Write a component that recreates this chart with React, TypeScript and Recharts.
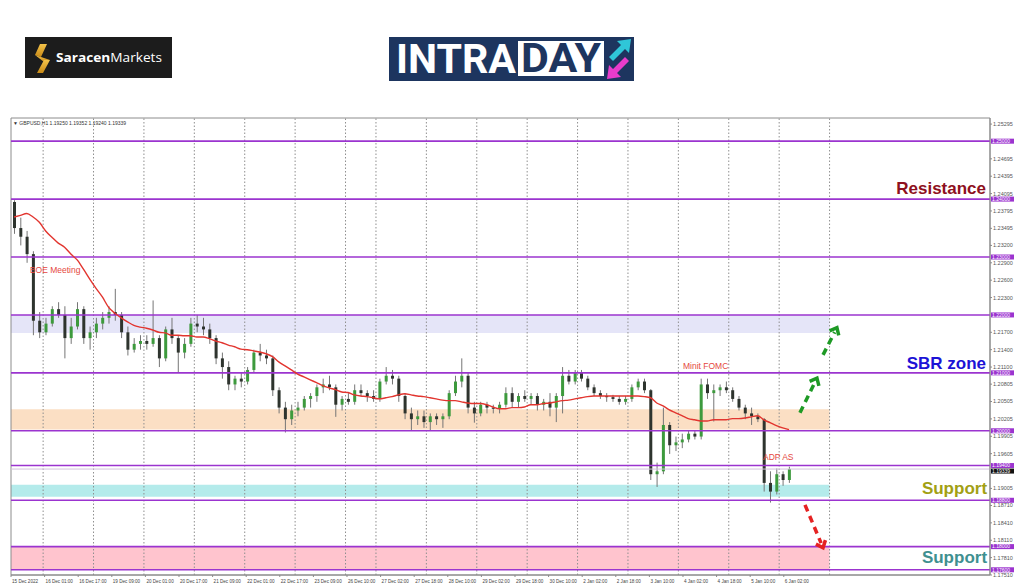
import React from 'react'
import { Bar, ComposedChart, Line, ReferenceArea, ReferenceDot, ReferenceLine, XAxis, YAxis } from 'recharts'

// GBPUSD, one candle per 3 hours, 15 Dec 2022 -> 6 Jan 2023
const firstOpen = 1.2395
const closes = [
  1.2350, 1.2335, 1.2305, 1.2190, 1.2170, 1.2185, 1.2210, 1.2200, 1.2160, 1.2180,
  1.2210, 1.2160, 1.2170, 1.2185, 1.2195, 1.2205, 1.2200, 1.2170, 1.2140, 1.2150,
  1.2155, 1.2150, 1.2160, 1.2125, 1.2175, 1.2160, 1.2135, 1.2150, 1.2185, 1.2180,
  1.2175, 1.2160, 1.2125, 1.2110, 1.2080, 1.2090, 1.2085, 1.2105, 1.2135, 1.2130,
  1.2125, 1.2070, 1.2040, 1.2020, 1.2035, 1.2040, 1.2055, 1.2060, 1.2075, 1.2080,
  1.2075, 1.2045, 1.2055, 1.2050, 1.2070, 1.2065, 1.2060, 1.2055, 1.2085, 1.2095,
  1.2090, 1.2060, 1.2030, 1.2020, 1.2025, 1.2015, 1.2025, 1.2020, 1.2025, 1.2065,
  1.2085, 1.2095, 1.2040, 1.2030, 1.2045, 1.2040, 1.2038, 1.2045, 1.2065, 1.2050,
  1.2060, 1.2055, 1.2060, 1.2045, 1.2050, 1.2040, 1.2060, 1.2095, 1.2085, 1.2100,
  1.2090, 1.2075, 1.2065, 1.2060, 1.2058, 1.2055, 1.2050, 1.2055, 1.2075, 1.2085,
  1.2070, 1.1925, 1.1930, 1.2010, 1.1975, 1.1980, 1.1985, 1.1995, 1.1990, 1.2080,
  1.2065, 1.2070, 1.2075, 1.2070, 1.2055, 1.2040, 1.2030, 1.2025, 1.2020, 1.1910,
  1.1895, 1.1925, 1.1915, 1.1934,
]
const highs = [
  1.2398, 1.2368, 1.2345, 1.2310, 1.2205, 1.2195, 1.2215, 1.2222, 1.2215, 1.2195,
  1.2222, 1.2215, 1.2180, 1.2195, 1.2205, 1.2215, 1.2245, 1.2205, 1.2180, 1.2160,
  1.2165, 1.2165, 1.2225, 1.2165, 1.2180, 1.2195, 1.2165, 1.2160, 1.2195, 1.2200,
  1.2195, 1.2185, 1.2165, 1.2135, 1.2120, 1.2095, 1.2100, 1.2110, 1.2140, 1.2150,
  1.2140, 1.2130, 1.2075, 1.2050, 1.2045, 1.2050, 1.2060, 1.2065, 1.2080, 1.2090,
  1.2095, 1.2080, 1.2060, 1.2065, 1.2080, 1.2080, 1.2070, 1.2070, 1.2090, 1.2110,
  1.2105, 1.2095, 1.2065, 1.2040, 1.2035, 1.2035, 1.2030, 1.2030, 1.2030, 1.2070,
  1.2095, 1.2125, 1.2100, 1.2050, 1.2050, 1.2050, 1.2045, 1.2050, 1.2075, 1.2075,
  1.2065, 1.2070, 1.2065, 1.2065, 1.2055, 1.2065, 1.2065, 1.2110, 1.2105, 1.2105,
  1.2105, 1.2095, 1.2080, 1.2070, 1.2065, 1.2062, 1.2060, 1.2060, 1.2080, 1.2090,
  1.2090, 1.2072, 1.1945, 1.2040, 1.2015, 1.1990, 1.1995, 1.2000, 1.2000, 1.2090,
  1.2090, 1.2080, 1.2080, 1.2085, 1.2075, 1.2060, 1.2045, 1.2040, 1.2030, 1.2022,
  1.1930, 1.1935, 1.1930, 1.1938,
]
const lows = [
  1.2340, 1.2320, 1.2290, 1.2165, 1.2160, 1.2165, 1.2180, 1.2195, 1.2125, 1.2150,
  1.2175, 1.2150, 1.2140, 1.2160, 1.2175, 1.2185, 1.2190, 1.2160, 1.2130, 1.2135,
  1.2140, 1.2140, 1.2145, 1.2110, 1.2120, 1.2150, 1.2100, 1.2125, 1.2145, 1.2170,
  1.2165, 1.2150, 1.2115, 1.2090, 1.2070, 1.2070, 1.2075, 1.2080, 1.2100, 1.2120,
  1.2115, 1.2060, 1.2030, 1.1997, 1.2010, 1.2025, 1.2035, 1.2040, 1.2050, 1.2065,
  1.2070, 1.2024, 1.2035, 1.2045, 1.2045, 1.2060, 1.2050, 1.2050, 1.2050, 1.2080,
  1.2080, 1.2050, 1.2020, 1.2000, 1.2010, 1.2005, 1.2000, 1.2010, 1.2005, 1.2020,
  1.2060, 1.2075, 1.2030, 1.2014, 1.2025, 1.2030, 1.2030, 1.2030, 1.2040, 1.2040,
  1.2040, 1.2050, 1.2045, 1.2035, 1.2035, 1.2025, 1.2015, 1.2030, 1.2080, 1.2080,
  1.2085, 1.2070, 1.2060, 1.2055, 1.2050, 1.2050, 1.2045, 1.2045, 1.2050, 1.2070,
  1.2065, 1.1915, 1.1903, 1.1925, 1.1960, 1.1965, 1.1970, 1.1980, 1.1985, 1.1985,
  1.2055, 1.2016, 1.2060, 1.2065, 1.2050, 1.2035, 1.2020, 1.2010, 1.2015, 1.1895,
  1.1876, 1.1890, 1.1905, 1.1910,
]
const maValues = [
  1.2369, 1.2372, 1.2375, 1.2369, 1.2360, 1.2345, 1.2334, 1.2324, 1.2317, 1.2305,
  1.2295, 1.2279, 1.2262, 1.2246, 1.2231, 1.2213, 1.2203, 1.2195, 1.2188, 1.2182,
  1.2179, 1.2177, 1.2174, 1.2170, 1.2169, 1.2165, 1.2165, 1.2164, 1.2164, 1.2162,
  1.2162, 1.2159, 1.2155, 1.2152, 1.2148, 1.2145, 1.2141, 1.2140, 1.2138, 1.2136,
  1.2133, 1.2128, 1.2119, 1.2112, 1.2105, 1.2098, 1.2093, 1.2088, 1.2083, 1.2078,
  1.2074, 1.2071, 1.2067, 1.2066, 1.2062, 1.2060, 1.2059, 1.2057, 1.2055, 1.2057,
  1.2059, 1.2062, 1.2064, 1.2062, 1.2060, 1.2059, 1.2057, 1.2055, 1.2053, 1.2052,
  1.2052, 1.2050, 1.2048, 1.2047, 1.2047, 1.2045, 1.2041, 1.2038, 1.2038, 1.2040,
  1.2040, 1.2041, 1.2045, 1.2045, 1.2047, 1.2048, 1.2050, 1.2052, 1.2053, 1.2055,
  1.2057, 1.2059, 1.2060, 1.2060, 1.2060, 1.2060, 1.2060, 1.2060, 1.2060, 1.2060,
  1.2059, 1.2057, 1.2048, 1.2043, 1.2036, 1.2031, 1.2026, 1.2021, 1.2019, 1.2017,
  1.2017, 1.2019, 1.2019, 1.2019, 1.2021, 1.2021, 1.2022, 1.2024, 1.2026, 1.2019,
  1.2014, 1.2009, 1.2005, 1.2002,
]

// time axis in hours from the first bar
const timeTicks = [0, 16, 32, 48, 64, 80, 96, 112, 128, 144, 160, 176, 192, 208, 224, 240, 256, 272, 288, 304, 320, 336, 352, 368]
const timeLabels = [
  '15 Dec 2022', '16 Dec 01:00', '16 Dec 17:00', '19 Dec 09:00', '20 Dec 01:00', '20 Dec 17:00',
  '21 Dec 09:00', '22 Dec 01:00', '22 Dec 17:00', '23 Dec 09:00', '26 Dec 10:00', '27 Dec 02:00',
  '27 Dec 18:00', '28 Dec 10:00', '29 Dec 02:00', '29 Dec 18:00', '30 Dec 10:00', '2 Jan 02:00',
  '2 Jan 18:00', '3 Jan 10:00', '4 Jan 02:00', '4 Jan 18:00', '5 Jan 10:00', '6 Jan 02:00',
]
const gridTimes = [15.3, 39.3, 63.3, 87.3, 111.3, 135.3, 159.3, 173.8, 197.8, 221.8, 245.8, 269.8, 293.8, 317.8, 341.8, 365.8, 389.8]
const timeEnd = 466.2
const zoneEnd = 389.8

// ticks that sit under a level tag are not listed
const priceTicks = [
  1.25295, 1.24695, 1.24395, 1.24095, 1.23795, 1.23495, 1.232, 1.229, 1.226, 1.223, 1.217, 1.214,
  1.211, 1.20805, 1.20505, 1.20205, 1.19905, 1.19605, 1.19005, 1.1871, 1.1841, 1.1811, 1.1781, 1.1751,
]
const priceMin = 1.1751
const priceMax = 1.254
const levels = [1.25, 1.24, 1.23, 1.22, 1.21, 1.2, 1.194, 1.188, 1.18, 1.176]
const lastPrice = 1.19339

const zoneBounds = [
  [1.2169, 1.22],
  [1.2002, 1.2037],
  [1.1886, 1.1907],
  [1.176, 1.18],
]
const zoneFills = ['#e5e5f8', '#fbdfc4', '#b4ebeb', '#ffc4ce']

const eventNotes = [
  { text: 'BOE Meeting', t: 9, price: 1.2272 },
  { text: 'Minit FOMC', t: 320, price: 1.2107 },
  { text: 'ADP AS', t: 358.1, price: 1.195 },
]
const zoneNotes = [
  { text: 'Resistance', t: 464.3, price: 1.2409 },
  { text: 'SBR zone', t: 464.3, price: 1.2107 },
  { text: 'Support', t: 464.8, price: 1.1891 },
  { text: 'Support', t: 464.8, price: 1.1771 },
]
const zoneNoteColors = ['#8e1020', '#1c12d6', '#a2a014', '#3f9090']

const bullArrows = [
  [{ x: 375.7, y: 1.2031 }, { x: 383.8, y: 1.2091 }],
  [{ x: 386.7, y: 1.2131 }, { x: 393.3, y: 1.2178 }],
]
const bearArrow = [{ x: 378.1, y: 1.1872 }, { x: 386.7, y: 1.1798 }]

const candles = closes.map((close, i) => ({
  t: 1.5 + i * 3,
  open: i === 0 ? firstOpen : closes[i - 1],
  high: highs[i],
  low: lows[i],
  close,
  range: [lows[i], highs[i]],
  ma: maValues[i],
}))

const PURPLE = '#9b34cf'
const axisFont = '"Liberation Sans", Arial, sans-serif'

function Candle(props: any) {
  const { x, y, width, height, payload } = props
  if (x == null || !payload) return null
  const top = Math.min(y, y + height)
  const bottom = Math.max(y, y + height)
  const span = payload.high - payload.low
  const toY = (v: number) => (span === 0 ? top : top + ((payload.high - v) / span) * (bottom - top))
  const cx = x + width / 2
  const up = payload.close >= payload.open
  const bTop = toY(Math.max(payload.open, payload.close))
  const bBot = toY(Math.min(payload.open, payload.close))
  return (
    <g>
      <line x1={cx} x2={cx} y1={top} y2={bottom} stroke="#767676" strokeWidth={1} />
      <rect x={x} y={bTop} width={width} height={Math.max(1, bBot - bTop)} fill={up ? '#3d9a3d' : '#2e342e'} />
    </g>
  )
}

function TimeTick({ x, y, payload }: any) {
  const label = timeLabels[timeTicks.indexOf(payload.value)]
  return (
    <text x={x + 1} y={y + 3.5} fontSize={4.6} fill="#444" fontFamily={axisFont}>
      {label}
    </text>
  )
}

function levelTag(value: number, fill: string, shift: number) {
  return (props: any) => {
    const vb = props.viewBox
    if (!vb) return null
    const right = vb.x + vb.width
    return (
      <g>
        <rect x={right + 1} y={vb.y - 2.5 + shift} width={23} height={5} fill={fill} />
        <text x={right + 2} y={vb.y + 1.8 + shift} fontSize={5} fill="#fff" fontFamily={axisFont}>
          {value.toFixed(5)}
        </text>
      </g>
    )
  }
}

function DashedArrow(color: string) {
  return (props: any) => {
    const { x1, y1, x2, y2 } = props
    if (x1 == null) return null
    const ang = Math.atan2(y2 - y1, x2 - x1)
    const len = 8
    const back = ang + Math.PI
    const p1 = [x2 + len * Math.cos(back - 0.7), y2 + len * Math.sin(back - 0.7)]
    const p2 = [x2 + len * Math.cos(back + 0.7), y2 + len * Math.sin(back + 0.7)]
    const sx = x2 - 5 * Math.cos(ang)
    const sy = y2 - 5 * Math.sin(ang)
    return (
      <g>
        <line x1={x1} y1={y1} x2={sx} y2={sy} stroke={color} strokeWidth={3.5} strokeDasharray="7 5" />
        <polyline points={`${p1[0]},${p1[1]} ${x2},${y2} ${p2[0]},${p2[1]}`} fill="none" stroke={color} strokeWidth={3.5} />
      </g>
    )
  }
}

function Logos() {
  return (
    <svg width={1024} height={587} style={{ position: 'absolute', left: 0, top: 0, pointerEvents: 'none' }}>
      <defs>
        <linearGradient id="gold" x1="0" y1="0" x2="0" y2="1">
          <stop offset="0" stopColor="#f3c34a" />
          <stop offset="1" stopColor="#c98a16" />
        </linearGradient>
      </defs>
      <rect x={25} y={37} width={147} height={41} fill="#1c1c1c" />
      <polygon points="40,44 47,44 41,57 35,55" fill="url(#gold)" />
      <polygon points="35,55 41,57 50,60 44,62" fill="url(#gold)" />
      <polygon points="44,60 50,60 43,73 37,73" fill="url(#gold)" />
      <text x={56} y={62} fontSize={12.5} fill="#fff" fontFamily='"Open Sans", sans-serif' textLength={106} lengthAdjust="spacingAndGlyphs">
        <tspan fontWeight={700}>Saracen</tspan>
        <tspan>Markets</tspan>
      </text>

      <rect x={389} y={37} width={245} height={44} fill="#1d355f" />
      <text x={396} y={73} fontSize={40} fontWeight={700} fill="#fff" fontFamily="Roboto, sans-serif" textLength={120} lengthAdjust="spacingAndGlyphs">
        INTRA
      </text>
      <rect x={518} y={41} width={86} height={35} fill="#fff" />
      <text x={521} y={72} fontSize={40} fontWeight={700} fill="#1d355f" fontFamily="Roboto, sans-serif" textLength={80} lengthAdjust="spacingAndGlyphs">
        DAY
      </text>
      <polygon points="609,57 621,45 617,41 631,39 629,53 625,49 613,61" fill="#2fc6d8" />
      <polygon points="629,61 617,73 621,77 607,79 609,65 613,69 625,57" fill="#e83ccb" />

      <text x={13} y={125} fontSize={5} fill="#333" fontFamily={axisFont}>
        ▼ GBPUSD,H1  1.19250 1.19352 1.19240 1.19339
      </text>
    </svg>
  )
}

export default function App() {
  return (
    <div style={{ position: 'absolute', left: 0, top: 0, width: 1024, height: 587, background: '#fff', overflow: 'hidden' }}>
      <ComposedChart width={1024} height={587} data={candles} margin={{ top: 118, right: 0, bottom: 0, left: 11 }}>
        <XAxis
          dataKey="t"
          type="number"
          domain={[0, timeEnd]}
          allowDataOverflow
          ticks={timeTicks}
          interval={0}
          height={12}
          tick={<TimeTick />}
          tickSize={2}
          axisLine={{ stroke: '#8a8a8a' }}
          tickLine={{ stroke: '#8a8a8a' }}
        />
        <YAxis
          orientation="right"
          domain={[priceMin, priceMax]}
          allowDataOverflow
          ticks={priceTicks}
          interval={0}
          width={34}
          tickSize={2}
          tickMargin={1}
          tickFormatter={(v: number) => v.toFixed(5)}
          tick={{ fontSize: 5.5, fill: '#555', fontFamily: axisFont }}
          axisLine={{ stroke: '#8a8a8a' }}
          tickLine={{ stroke: '#8a8a8a' }}
        />

        {zoneBounds.map((z, i) => (
          <ReferenceArea key={`z${i}`} x1={0} x2={zoneEnd} y1={z[0]} y2={z[1]} fill={zoneFills[i]} fillOpacity={1} stroke="none" />
        ))}
        <ReferenceArea x1={0} x2={timeEnd} y1={priceMin} y2={priceMax} fill="none" stroke="#8c8c8c" strokeWidth={1} />

        {gridTimes.map((t) => (
          <ReferenceLine key={`g${t}`} x={t} stroke="#8f8f8f" strokeDasharray="1.5 2" strokeWidth={1} />
        ))}

        <ReferenceLine y={lastPrice} stroke="#d2c2dc" strokeWidth={1} label={levelTag(lastPrice, '#111', 2)} />
        {levels.map((lv) => (
          <ReferenceLine key={`l${lv}`} y={lv} stroke={PURPLE} strokeWidth={1.6} label={levelTag(lv, PURPLE, 0)} />
        ))}

        <Bar dataKey="range" barSize={3} shape={<Candle />} isAnimationActive={false} />
        <Line dataKey="ma" type="monotone" stroke="#e2352f" strokeWidth={1.4} dot={false} isAnimationActive={false} />

        {bullArrows.map((seg, i) => (
          <ReferenceLine key={`a${i}`} segment={seg} shape={DashedArrow('#1e9a25')} />
        ))}
        <ReferenceLine segment={bearArrow} shape={DashedArrow('#e52222')} />

        {eventNotes.map((n) => (
          <ReferenceDot
            key={n.text}
            x={n.t}
            y={n.price}
            r={0}
            shape={(p: any) => (
              <text x={p.cx} y={p.cy} fontSize={8.5} fill="#e5473e" fontFamily={axisFont}>
                {n.text}
              </text>
            )}
          />
        ))}
        {zoneNotes.map((n, i) => (
          <ReferenceDot
            key={`n${i}`}
            x={n.t}
            y={n.price}
            r={0}
            shape={(p: any) => (
              <text x={p.cx} y={p.cy} fontSize={17} fontWeight={700} textAnchor="end" fill={zoneNoteColors[i]} fontFamily={axisFont}>
                {n.text}
              </text>
            )}
          />
        ))}
      </ComposedChart>
      <Logos />
    </div>
  )
}
